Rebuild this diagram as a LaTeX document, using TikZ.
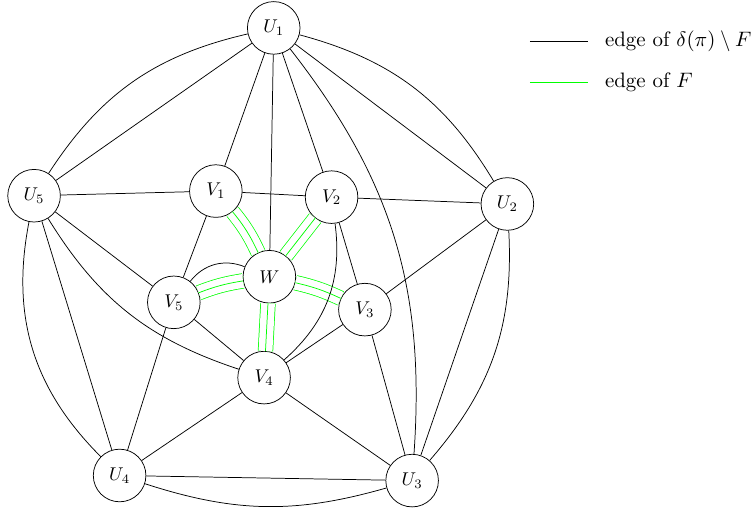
\documentclass[tikz,border=0pt]{standalone}
\usepackage{tikz}

\begin{document}
\begin{tikzpicture}
\tikzset{noeud/.style={draw, circle, minimum size=1cm, inner sep=0pt}}
\tikzset{fedge/.style={green}}
\tikzset{ftriple/.style={draw=green, double=white, double distance=7.5pt}}
\tikzset{legende/.style={anchor=west, scale=1.13}}
\useasboundingbox (-5.12, -4.54) rectangle (9.23, 5.26);
\node[noeud] (W) at (0,0) {$W$};
\node[noeud] (U1) at (89:4.73cm) {$U_1$};
\node[noeud] (U2) at (17:4.73cm) {$U_2$};
\node[noeud] (U3) at (-55:4.73cm) {$U_3$};
\node[noeud] (U4) at (-127:4.73cm) {$U_4$};
\node[noeud] (U5) at (161:4.73cm) {$U_5$};
\node[noeud] (V1) at (122:1.92cm) {$V_1$};
\node[noeud] (V2) at (52:1.92cm) {$V_2$};
\node[noeud] (V3) at (-19:1.92cm) {$V_3$};
\node[noeud] (V4) at (-93:1.92cm) {$V_4$};
\node[noeud] (V5) at (195:1.88cm) {$V_5$};
% F, three times
\foreach \v/\b in {V1/7, V2/0, V3/-6, V4/0, V5/6} {
  \draw[ftriple] (\v) to[bend left=\b] (W);
  \draw[fedge] (\v) to[bend left=\b] (W);
}
% outer cycle, twice
\draw (U1) -- (U2);
\draw (U2) -- (U3);
\draw (U3) -- (U4);
\draw (U4) -- (U5);
\draw (U5) -- (U1);
\draw (U1) to[bend left=22] (U2);
\draw (U2) to[bend left=22] (U3);
\draw (U3) to[bend left=17] (U4);
\draw (U4) to[bend left=28] (U5);
\draw (U5) to[bend left=22] (U1);
% spokes
\draw (U1) -- (V1);
\draw (U1) -- (W);
\draw (U1) -- (V2);
\draw (U1) to[bend left=21] (U3);
\draw (U2) -- (V2);
\draw (U2) -- (V3);
\draw (U3) -- (V3);
\draw (U3) -- (V4);
\draw (U4) -- (V4);
\draw (U4) -- (V5);
\draw (U5) -- (V5);
\draw (U5) -- (V1);
\draw (U5) to[bend right=20] (V4);
% inner cycle
\draw (V1) -- (V2);
\draw (V2) -- (V3);
\draw (V3) -- (V4);
\draw (V4) -- (V5);
\draw (V5) -- (V1);
\draw (V2) to[bend left=28] (V4);
\draw (V5) to[bend left=37] (W);
% legend
\coordinate (k1a) at (4.95, 4.47);
\coordinate (k1b) at (6.06, 4.47);
\coordinate (k2a) at (4.95, 3.70);
\coordinate (k2b) at (6.06, 3.70);
\draw (k1a) -- (k1b);
\draw[fedge] (k2a) -- (k2b);
\node[legende] (t1) at (6.24, 4.47) {edge of $\delta(\pi)\setminus F$};
\node[legende] (t2) at (6.24, 3.70) {edge of $F$};
\end{tikzpicture}
\end{document}
